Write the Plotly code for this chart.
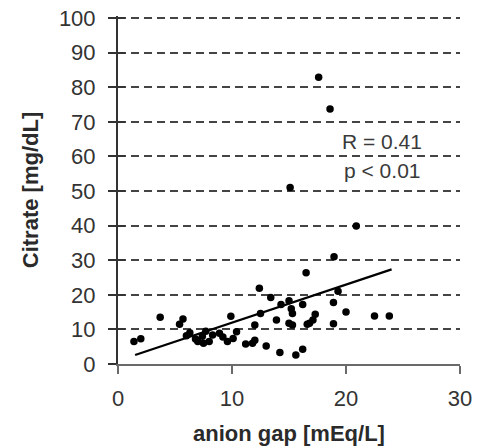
import plotly.graph_objects as go

anion_gap = [1.4, 2.0, 3.7, 5.4, 5.7, 6.0, 6.3, 6.8, 7.0, 7.4, 7.5, 7.7, 8.0, 8.3, 8.9,
             9.2, 9.6, 9.9, 10.1, 10.4, 11.2, 11.8, 12.0, 12.0, 12.4, 12.5, 13.0, 13.4,
             13.9, 14.2, 14.3, 15.0, 15.2, 15.3, 15.0, 15.3, 15.6, 16.2, 16.2, 16.5,
             16.6, 16.8, 17.1, 17.3, 18.9, 18.9, 19.3, 20.0, 22.5, 23.8, 18.95, 20.9,
             15.1, 17.6, 18.6]
citrate = [6.5, 7.3, 13.5, 11.5, 13.0, 8.2, 9.0, 7.2, 6.5, 8.0, 6.0, 9.5, 6.5, 8.4, 8.9,
           7.8, 6.5, 13.8, 7.4, 9.3, 5.8, 6.0, 6.9, 11.3, 21.9, 14.6, 5.2, 19.2,
           12.7, 3.3, 17.2, 18.3, 16.0, 14.6, 11.8, 11.3, 2.6, 4.3, 17.2, 26.4,
           11.5, 11.8, 12.7, 14.4, 17.8, 11.6, 21.0, 15.0, 13.9, 13.9, 31.0, 39.9,
           51.0, 82.9, 73.7]

fit_x = [1.5, 24.0]
fit_slope = 1.10
fit_intercept = 0.95
fit_y = [fit_slope * v + fit_intercept for v in fit_x]

stats_lines = ["R = 0.41", "p < 0.01"]
stats_y = [64.3, 55.9]
stats_x = 23.2

x_ticks = [0, 10, 20, 30]
y_ticks = [0, 10, 20, 30, 40, 50, 60, 70, 80, 90, 100]

FONT = "Liberation Sans, Arial, sans-serif"

fig = go.Figure()
fig.add_trace(go.Scatter(x=fit_x, y=fit_y, mode="lines",
                         line=dict(color="black", width=2.2), hoverinfo="skip"))
fig.add_trace(go.Scatter(x=anion_gap, y=citrate, mode="markers",
                         marker=dict(color="black", size=7.5, line=dict(width=0))))
# helper trace on overlay axis for the inner half of y ticks
fig.add_trace(go.Scatter(x=[None], y=[None], yaxis="y2", showlegend=False))

for txt, yy in zip(stats_lines, stats_y):
    fig.add_annotation(x=stats_x, y=yy, text=txt, showarrow=False,
                       font=dict(family=FONT, size=21, color="#3a3a3a"),
                       xanchor="center", yanchor="middle")

fig.update_layout(
    width=479, height=448,
    margin=dict(l=118, r=19, t=16, b=84),
    paper_bgcolor="white", plot_bgcolor="white",
    showlegend=False,
    font=dict(family=FONT, size=21, color="#333333"),
    xaxis=dict(range=[0, 30], tickvals=x_ticks, showgrid=False, zeroline=False,
               automargin=False,
               showline=True, linecolor="#6a6a6a", linewidth=2,
               ticks="outside", ticklen=8, tickwidth=2, tickcolor="#6a6a6a",
               ticklabelstandoff=6,
               tickfont=dict(size=22, color="#333333"),
               title=dict(text="<b>anion gap [mEq/L]</b>", font=dict(size=22, color="#2a2a2a"),
                          standoff=15)),
    yaxis=dict(range=[0, 100.6], tickvals=y_ticks, showgrid=True, gridcolor="#444444",
               gridwidth=2, griddash="8px,5px", zeroline=False,
               automargin=False,
               showline=True, linecolor="#333333", linewidth=2,
               ticks="outside", ticklen=8, tickwidth=2, tickcolor="#333333",
               ticklabelstandoff=8,
               tickfont=dict(size=22, color="#333333"),
               title=dict(text="<b>Citrate [mg/dL]</b>", font=dict(size=22, color="#2a2a2a"),
                          standoff=14)),
    yaxis2=dict(range=[0, 100.6], tickvals=y_ticks, overlaying="y", side="left",
                automargin=False,
                showgrid=False, zeroline=False, showline=False, showticklabels=False,
                ticks="inside", ticklen=7, tickwidth=2, tickcolor="#333333"),
)

fig.write_html("out.html")
